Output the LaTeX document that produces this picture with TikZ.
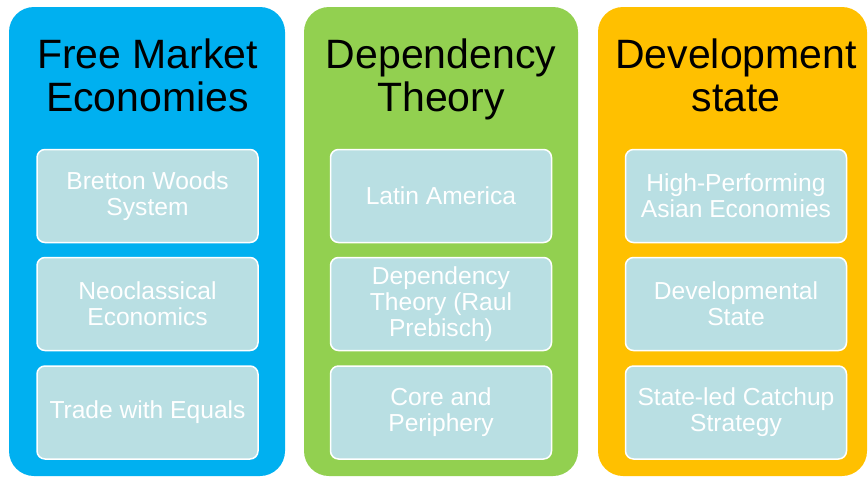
\documentclass[tikz,border=0pt]{standalone}
\usepackage{fontspec}
\setmainfont{Liberation Sans}
\usepackage{xcolor}
\usetikzlibrary{positioning}

\definecolor{freeblue}{RGB}{0,176,240}
\definecolor{depgreen}{RGB}{146,208,80}
\definecolor{devorange}{RGB}{255,192,0}
\definecolor{itemfill}{RGB}{185,223,227}

\tikzset{
    column/.style={rounded corners=25pt, minimum width=#1, minimum height=469pt, inner sep=0pt},
    coltitle/.style={anchor=north, align=center, inner sep=0pt, font=\fontsize{41}{43}\selectfont},
    item/.style={draw=white, line width=1.5pt, fill=itemfill, rounded corners=8pt,
        minimum width=221pt, minimum height=93pt, inner sep=0pt, align=center,
        text=white, font=\fontsize{24.6}{26}\selectfont}
}

\begin{document}
\begin{tikzpicture}[x=1pt,y=-1pt]
\useasboundingbox (0,0) rectangle (868,479);

% three coloured columns
\node[column=276pt, fill=freeblue] (free) at (147,241.5) {};
\node[column=274pt, fill=depgreen] (dep) at (441,241.5) {};
\node[column=269pt, fill=devorange] (dev) at (732.5,241.5) {};

% column titles
\node[coltitle] (freetitle) at (147.5,39) {Free Market\\Economies};
\node[coltitle] (deptitle) at (441,39) {Dependency\\Theory};
\node[coltitle] (devtitle) at (736,39) {Development\\state};

% items, one row per column
\foreach \n/\y/\txt in {1/196/{Bretton Woods\\System}, 2/304/{Neoclassical\\Economics}, 3/412.5/{Trade with Equals}} {
    \node[item] (free\n) at (147.5,\y) {\txt};
}
\foreach \n/\y/\txt in {1/196/{Latin America}, 2/304/{Dependency\\Theory (Raul\\Prebisch)}, 3/412.5/{Core and\\Periphery}} {
    \node[item] (dep\n) at (441,\y) {\txt};
}
\foreach \n/\y/\txt in {1/196/{High-Performing\\Asian Economies}, 2/304/{Developmental\\State}, 3/412.5/{State-led Catchup\\Strategy}} {
    \node[item] (dev\n) at (736,\y) {\txt};
}
\end{tikzpicture}
\end{document}
